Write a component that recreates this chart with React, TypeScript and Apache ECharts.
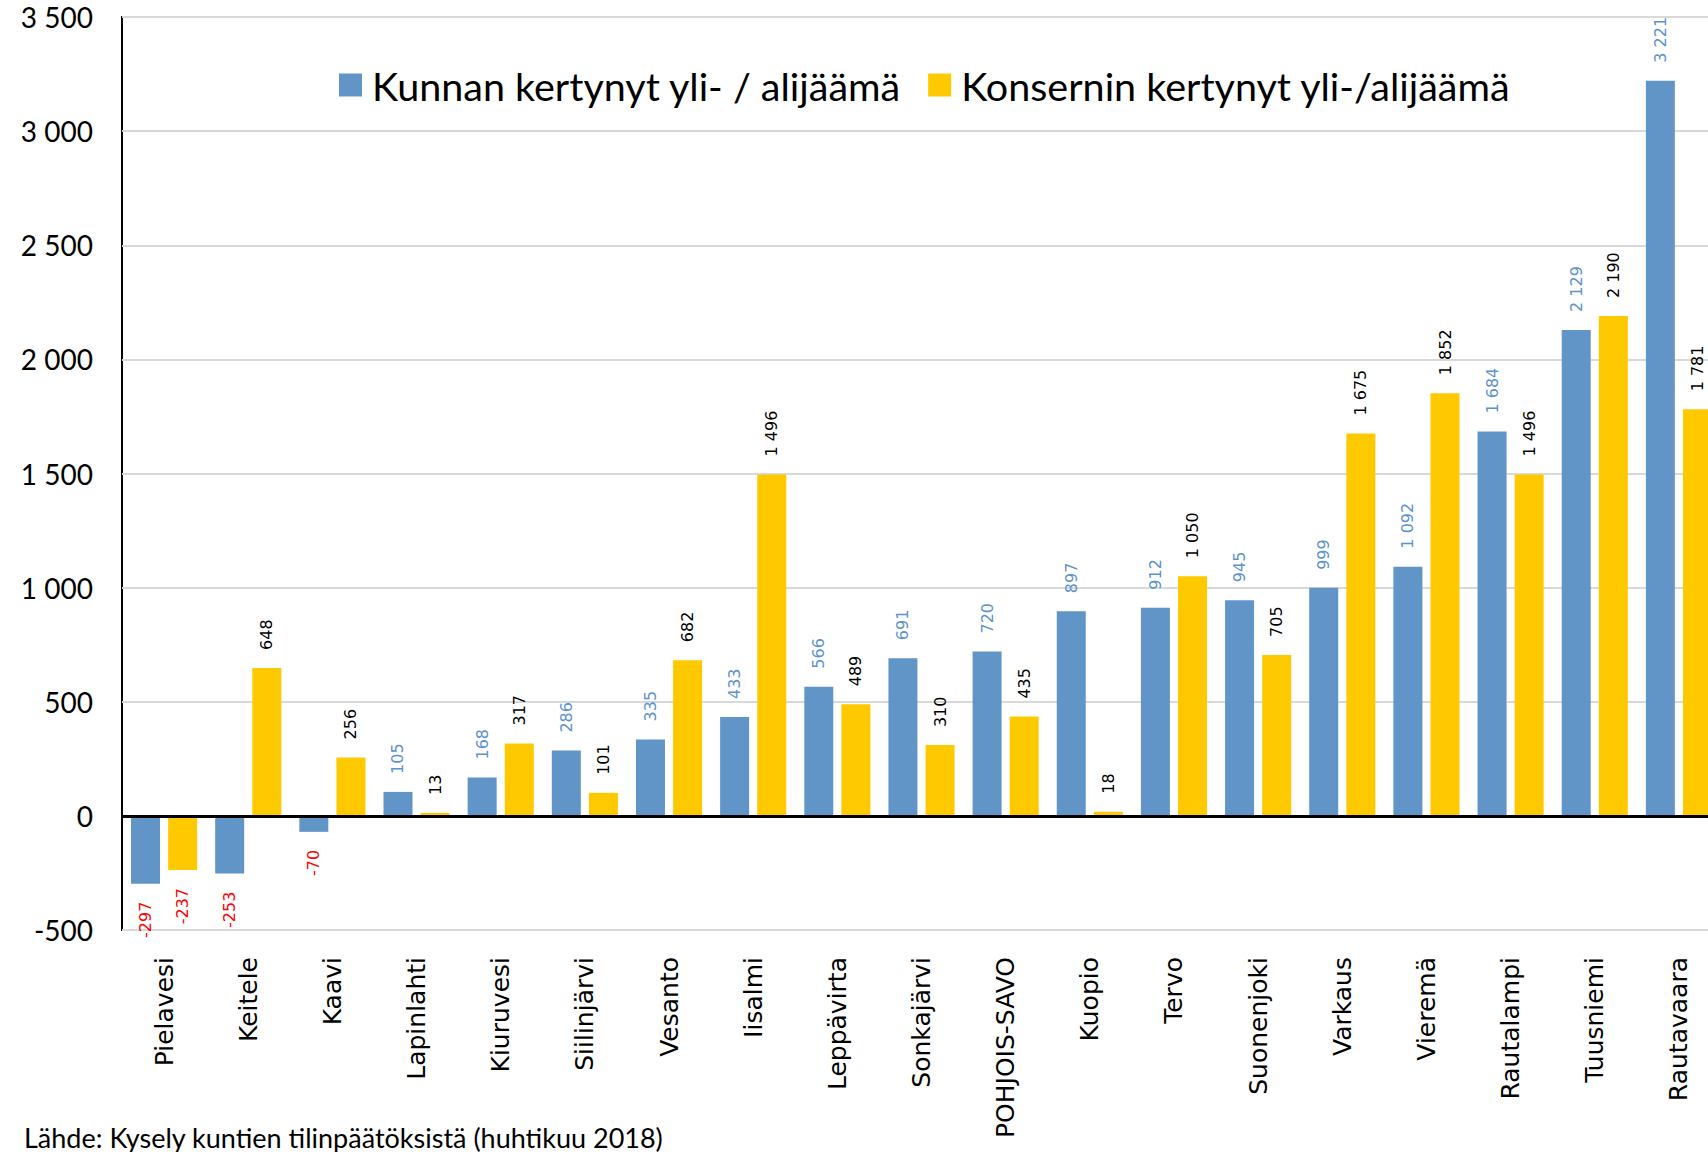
import React, { useEffect, useRef } from 'react';
import * as echarts from 'echarts';

const categories = [
  'Pielavesi', 'Keitele', 'Kaavi', 'Lapinlahti', 'Kiuruvesi', 'Siilinjärvi', 'Vesanto',
  'Iisalmi', 'Leppävirta', 'Sonkajärvi', 'POHJOIS-SAVO', 'Kuopio', 'Tervo', 'Suonenjoki',
  'Varkaus', 'Vieremä', 'Rautalampi', 'Tuusniemi', 'Rautavaara',
];
const kunnanValues = [-297, -253, -70, 105, 168, 286, 335, 433, 566, 691, 720, 897, 912, 945, 999, 1092, 1684, 2129, 3221];
const konserninValues = [-237, 648, 256, 13, 317, 101, 682, 1496, 489, 310, 435, 18, 1050, 705, 1675, 1852, 1496, 2190, 1781];
const seriesNames = ['Kunnan kertynyt yli- / alijäämä', 'Konsernin kertynyt yli-/alijäämä'];
const sourceText = 'Lähde: Kysely kuntien tilinpäätöksistä (huhtikuu 2018)';

const BLUE = '#6195C8';
const YELLOW = '#FFC900';
const BLUE_LABEL = '#5B92D0';

function fmt(v: number): string {
  const s = Math.abs(v).toString().replace(/\B(?=(\d{3})+(?!\d))/g, ' ');
  return (v < 0 ? '-' : '') + s;
}

function makeData(vals: number[]) {
  return vals.map((v) =>
    v < 0
      ? { value: v, label: { position: 'bottom', align: 'right', color: '#FF0000' } }
      : { value: v }
  );
}

export default function App() {
  const ref = useRef<HTMLDivElement>(null);
  useEffect(() => {
    if (!ref.current) return;
    const chart = echarts.init(ref.current, undefined, { renderer: 'svg' });
    const baseLabel = {
      show: true,
      position: 'top',
      rotate: 90,
      align: 'left',
      verticalAlign: 'middle',
      distance: 18,
      fontSize: 16,
      fontFamily: 'DejaVu Sans',
      formatter: (p: any) => fmt(p.value),
    };
    chart.setOption({
      animation: false,
      backgroundColor: '#fff',
      grid: {
        left: 122,
        top: 17,
        width: 1599,
        bottom: 222,
        outerBoundsMode: 'none',
        containLabel: false,
        show: true,
        borderColor: '#000',
        borderWidth: 2,
        backgroundColor: 'transparent',
      },
      legend: {
        left: 334,
        top: 60,
        itemWidth: 23,
        itemHeight: 23,
        itemGap: 27,
        icon: 'rect',
        textStyle: {
          fontSize: 39.5,
          fontFamily: 'Lato',
          color: '#000',
          padding: [0, 0, 0, 5],
        },
        data: seriesNames,
      },
      xAxis: {
        type: 'category',
        data: categories,
        axisLine: { show: false, onZero: false },
        axisTick: { show: false },
        axisLabel: {
          rotate: 90,
          interval: 0,
          fontSize: 25,
          fontFamily: 'DejaVu Sans',
          color: '#000',
          margin: 27,
        },
      },
      yAxis: {
        type: 'value',
        min: -500,
        max: 3500,
        interval: 500,
        axisLine: { show: false },
        axisTick: { show: false },
        splitLine: { lineStyle: { color: '#D9D9D9', width: 2 } },
        axisLabel: {
          fontSize: 28,
          fontFamily: 'Lato',
          color: '#000',
          margin: 29,
          padding: [12, 0, 0, 0],
          formatter: (v: number) => fmt(v),
        },
      },
      series: [
        {
          name: seriesNames[0],
          type: 'bar',
          data: makeData(kunnanValues),
          barWidth: 29,
          barGap: '28%',
          itemStyle: { color: BLUE },
          label: { ...baseLabel, color: BLUE_LABEL },
          markLine: {
            silent: true,
            symbol: 'none',
            label: { show: false },
            lineStyle: { color: '#000', width: 3, type: 'solid' },
            data: [{ yAxis: 0 }],
          },
        },
        {
          name: seriesNames[1],
          type: 'bar',
          data: makeData(konserninValues),
          barWidth: 29,
          barGap: '28%',
          itemStyle: { color: YELLOW },
          label: { ...baseLabel, color: '#000' },
        },
      ],
      graphic: [
        {
          type: 'text',
          left: 24,
          top: 1124,
          style: { text: sourceText, fontSize: 27, fontFamily: 'Lato', fill: '#000' },
        },
      ],
    });
    return () => chart.dispose();
  }, []);
  return (
    <div
      ref={ref}
      style={{ position: 'absolute', left: 0, top: 0, width: 1708, height: 1152 }}
    />
  );
}
